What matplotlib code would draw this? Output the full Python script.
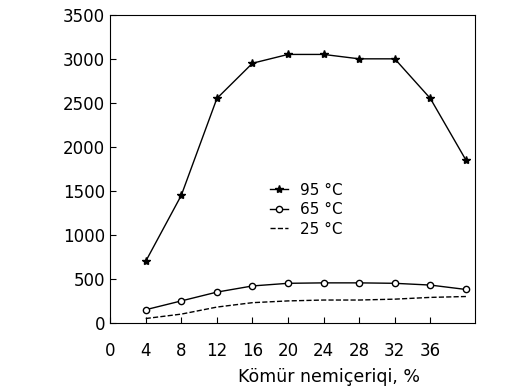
import matplotlib
matplotlib.use("Agg")
import matplotlib.pyplot as plt

# moisture content, %
moisture = [4, 8, 12, 16, 20, 24, 28, 32, 36, 40]

# gas yield for each temperature
yield_95 = [700, 1450, 2550, 2950, 3050, 3050, 3000, 3000, 2550, 1850]
yield_65 = [150, 250, 350, 420, 450, 455, 455, 450, 430, 380]
yield_25 = [50, 100, 180, 230, 250, 260, 260, 270, 290, 300]

x_ticks = [0, 4, 8, 12, 16, 20, 24, 28, 32, 36]
y_ticks = [0, 500, 1000, 1500, 2000, 2500, 3000, 3500]

fig = plt.figure(figsize=(5.1, 3.9), dpi=100)
ax = fig.add_axes([0.216, 0.172, 0.715, 0.79])

ax.plot(moisture, yield_95, color="black", lw=1, marker="*", ms=6, label="95 °C")
ax.plot(moisture, yield_65, color="black", lw=1, marker="o", ms=4.5,
        mfc="white", label="65 °C")
ax.plot(moisture, yield_25, color="black", lw=1, ls="--", label="25 °C")

ax.set_xlim(0, 41)
ax.set_ylim(0, 3500)
ax.set_xticks(x_ticks)
ax.set_yticks(y_ticks)
ax.tick_params(direction="in", labelsize=12, length=4)
ax.tick_params(axis="x", pad=14)

ax.set_xlabel("Kömür nemiçeriqi, %", fontsize=12.5)
ax.xaxis.set_label_coords(0.60, -0.145)

ax.legend(loc="upper left", bbox_to_anchor=(0.40, 0.50), frameon=False,
          fontsize=11, handlelength=1.2, labelspacing=0.3)

fig.savefig("out.png", dpi=100)
